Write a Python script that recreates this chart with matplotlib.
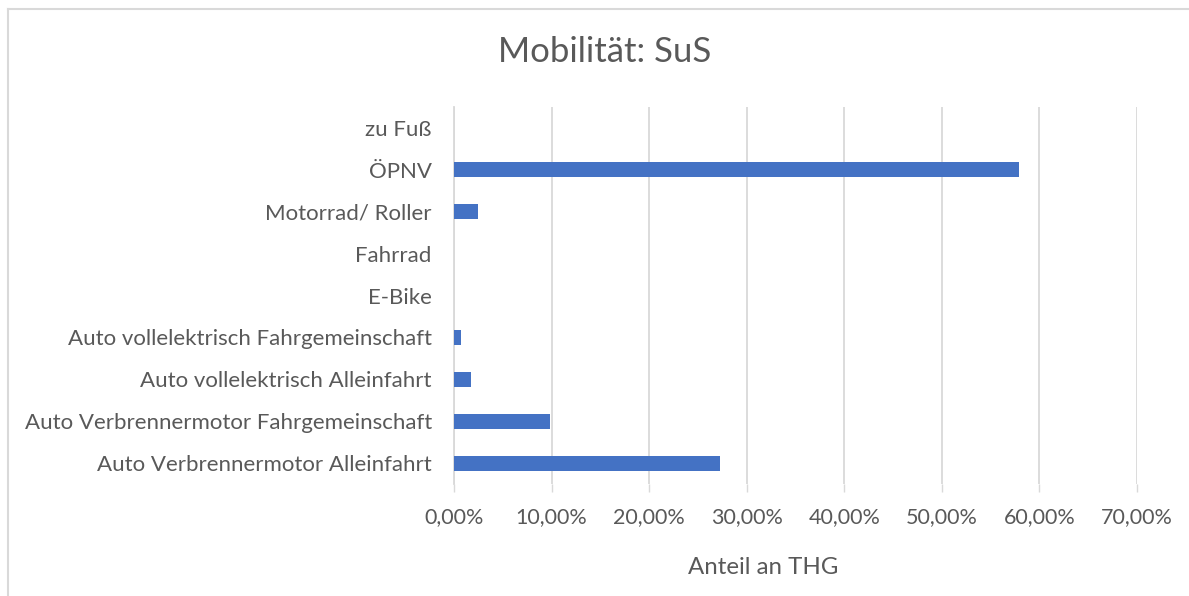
import matplotlib
matplotlib.use("Agg")
import matplotlib.pyplot as plt
from matplotlib.ticker import FuncFormatter
from matplotlib.lines import Line2D

categories = [
    "Auto Verbrennermotor Alleinfahrt",
    "Auto Verbrennermotor Fahrgemeinschaft",
    "Auto vollelektrisch Alleinfahrt",
    "Auto vollelektrisch Fahrgemeinschaft",
    "E-Bike",
    "Fahrrad",
    "Motorrad/ Roller",
    "ÖPNV",
    "zu Fuß",
]
values = [0.273, 0.0985, 0.0177, 0.0068, 0.0, 0.0, 0.025, 0.579, 0.0]
xticks = [0.0, 0.1, 0.2, 0.3, 0.4, 0.5, 0.6, 0.7]

TXT = "#595959"
GRID = "#D9D9D9"
BAR = "#4472C4"
W, H = 1189, 596

plt.rcParams["font.family"] = ["Lato", "DejaVu Sans"]

fig = plt.figure(figsize=(W / 100, H / 100), dpi=100)
ax = fig.add_axes([454 / W, 1 - 484 / H, (1137 - 454) / W, (484 - 107) / H])

y = list(range(len(categories)))
ax.barh(y, values, height=0.36, color=BAR, zorder=3)
ax.set_xlim(0, 0.7)
ax.set_ylim(-0.5, len(categories) - 0.5)
ax.set_yticks(y)
ax.set_yticklabels(categories, fontsize=16, color=TXT)
ax.set_xticks(xticks)
ax.xaxis.set_major_formatter(FuncFormatter(lambda v, p: f"{v*100:.2f}%".replace(".", ",")))
ax.tick_params(axis="x", labelsize=15.5, colors=TXT, length=6, width=1, color=GRID, pad=10.5)
ax.tick_params(axis="y", length=0, pad=16)
ax.grid(axis="x", color=GRID, linewidth=1.3, zorder=0)
for s in ["top", "right", "bottom"]:
    ax.spines[s].set_visible(False)
ax.spines["left"].set_color(GRID)
ax.spines["left"].set_linewidth(1.3)
ax.set_xlabel("Anteil an THG", fontsize=17.3, color=TXT)
ax.xaxis.set_label_coords((763 - 454) / (1137 - 454), -(567 - 484) / (484 - 107))
ax.xaxis.label.set_va("center")

fig.text(605 / W, 1 - 52 / H, "Mobilität: SuS", ha="center", va="center", fontsize=25, color=TXT)

# chart border
fig.add_artist(Line2D([8 / W, 8 / W], [0, 1 - 9 / H], transform=fig.transFigure, color=GRID, lw=1.5))
fig.add_artist(Line2D([8 / W, 1], [1 - 9 / H, 1 - 9 / H], transform=fig.transFigure, color=GRID, lw=1.5))

fig.savefig("out.png", dpi=100, facecolor="white")
